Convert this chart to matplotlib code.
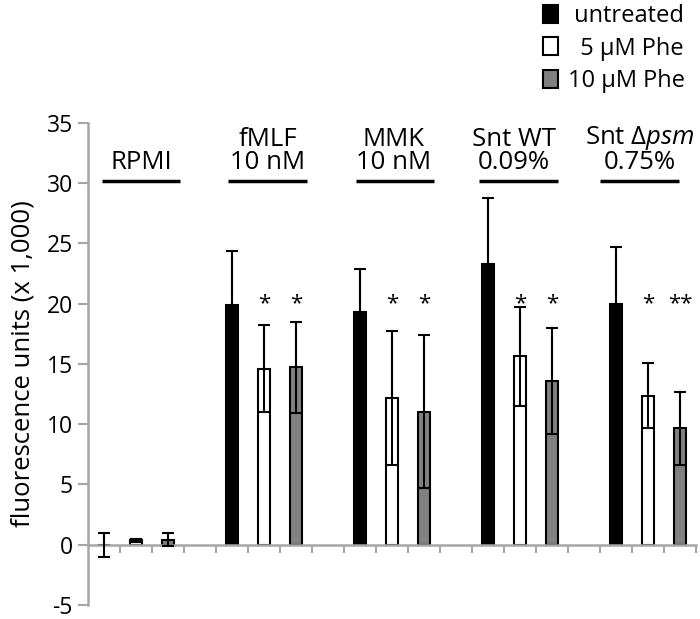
import matplotlib
matplotlib.use("Agg")
import matplotlib.pyplot as plt
from matplotlib.patches import Patch
import numpy as np

plt.rcParams['font.family'] = ['Open Sans', 'DejaVu Sans']
plt.rcParams['mathtext.fontset'] = 'custom'
plt.rcParams['mathtext.rm'] = 'Open Sans'
plt.rcParams['mathtext.it'] = 'Open Sans:italic'

# ---- data ----
groups = ["RPMI", "fMLF\n10 nM", "MMK\n10 nM", "Snt WT\n0.09%", "Snt Δ$\\mathit{psm}$\n0.75%"]
series_labels = [" untreated", "  5 µM Phe", "10 µM Phe"]
untreated = [0.0, 19.86, 19.26, 23.3, 19.95]
phe5 = [0.35, 14.6, 12.16, 15.64, 12.35]
phe10 = [0.41, 14.7, 11.04, 13.58, 9.64]
err_untreated = [1.0, 4.5, 3.64, 5.47, 4.7]
err_phe5 = [0.14, 3.6, 5.55, 4.11, 2.71]
err_phe10 = [0.55, 3.8, 6.34, 4.38, 3.04]
stars_phe5 = ["", "*", "*", "*", "*"]
stars_phe10 = ["", "*", "*", "*", "**"]
yticks = [-5, 0, 5, 10, 15, 20, 25, 30, 35]

# ---- figure ----
fig = plt.figure(figsize=(7.0, 6.19), dpi=100)
ax = fig.add_axes([88/700, 14/619, 608/700, 482.3/619])

gray_axis = '#a6a6a6'
colors = ['black', 'white', '#808080']
series = [untreated, phe5, phe10]
errs = [err_untreated, err_phe5, err_phe10]
stars = [None, stars_phe5, stars_phe10]
width = 0.38
n_groups = len(groups)
group_x = np.arange(n_groups) * 4

for s, (vals, err, col) in enumerate(zip(series, errs, colors)):
    xs = group_x + s
    ax.bar(xs, vals, width=width, color=col, edgecolor='black', linewidth=1.5, zorder=2)
    ax.errorbar(xs, vals, yerr=err, fmt='none', ecolor='black', elinewidth=1.5,
                capsize=4.5, capthick=1.5, zorder=3)
    if stars[s] is not None:
        for x, st in zip(xs, stars[s]):
            if st:
                ax.text(x, 20.0, st, ha='center', va='center', fontsize=16, zorder=4)

# group labels with underline
label_offsets = [0.17, 0.11, 0.06, -0.19, -0.25]
line_spans = [(-0.07, 2.375), (3.875, 6.34), (7.87, 10.32), (11.72, 14.19), (15.5, 17.97)]
for gx, lab, off, (x0, x1) in zip(group_x, groups, label_offsets, line_spans):
    ax.plot([x0, x1], [30.2, 30.2], color='black', linewidth=2.5, solid_capstyle='butt', zorder=2)
    ax.text(gx + 1 + off, 30.65, lab, ha='center', va='bottom', fontsize=18.5,
            linespacing=0.9)

ax.set_xlim(-0.5, 18.5)
ax.set_ylim(-5, 35)
ax.set_yticks(yticks)
ax.set_yticklabels([str(t) for t in yticks], fontsize=16.5)
ax.set_xticks(np.arange(0.5, 19.0, 1.0))
ax.set_xticklabels([])
ax.tick_params(axis='y', direction='out', length=7, width=1.5, color=gray_axis, pad=4)
ax.tick_params(axis='x', direction='out', length=6, width=1.5, color=gray_axis)

for side in ['top', 'right']:
    ax.spines[side].set_visible(False)
ax.spines['left'].set_color(gray_axis)
ax.spines['left'].set_linewidth(1.8)
ax.spines['bottom'].set_color(gray_axis)
ax.spines['bottom'].set_linewidth(1.8)
ax.spines['bottom'].set_position(('data', 0))

ax.set_ylabel("fluorescence units (x 1,000)", fontsize=18.5, labelpad=8)

handles = [Patch(facecolor=c, edgecolor='black', linewidth=1.5) for c in colors]
ax.legend(handles, series_labels, loc='upper left', bbox_to_anchor=(541/700, 1.0 - 2/619),
          bbox_transform=fig.transFigure, frameon=False, fontsize=17,
          handlelength=0.6, handleheight=0.8, handletextpad=0.45,
          labelspacing=0.35, borderaxespad=0.0, borderpad=0.1)

fig.savefig("out.png", dpi=100)
